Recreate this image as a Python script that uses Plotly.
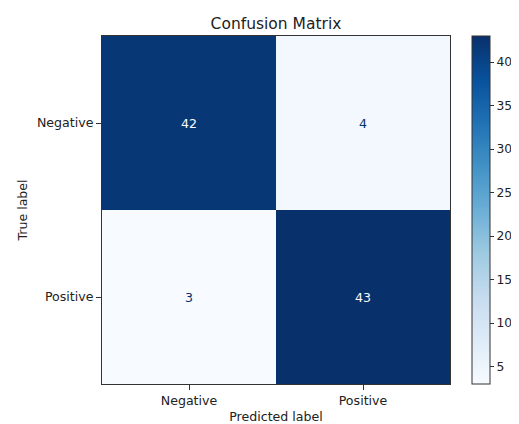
import plotly.graph_objects as go

labels = ["Negative", "Positive"]
matrix = [[42, 4], [3, 43]]
cbar_ticks = [5, 10, 15, 20, 25, 30, 35, 40]

blues = ["#f7fbff", "#deebf7", "#c6dbef", "#9ecae1", "#6baed6",
         "#4292c6", "#2171b5", "#08519c", "#08306b"]
colorscale = [[i / (len(blues) - 1), c] for i, c in enumerate(blues)]

zmin = min(min(r) for r in matrix)
zmax = max(max(r) for r in matrix)
thresh = (zmin + zmax) / 2

# page body has an 8px margin, so the figure is sized 8px smaller
W, H = 511, 416
L, T, R, B = 94, 28, 69, 40
FS = 12.6
FONT = "DejaVu Sans"
TXT = "#222"

fig = go.Figure(go.Heatmap(
    z=matrix, x=labels, y=labels,
    colorscale=colorscale, zmin=zmin, zmax=zmax,
    xgap=0, ygap=0,
    colorbar=dict(
        x=(464 - L) / (W - L - R), xanchor="left", y=0.5, yanchor="middle",
        len=1.0, lenmode="fraction", thickness=18, thicknessmode="pixels",
        outlinewidth=1, outlinecolor="#333",
        tickvals=cbar_ticks, ticks="outside", ticklen=4, tickcolor="#333",
        tickfont=dict(family=FONT, size=12.3, color=TXT),
        xpad=0, ypad=0,
    ),
    hoverinfo="skip",
))

annotations = []
for i, row in enumerate(matrix):
    for j, v in enumerate(row):
        annotations.append(dict(
            x=labels[j], y=labels[i], text=str(v), showarrow=False,
            font=dict(family=FONT, size=FS,
                      color=blues[0] if v > thresh else blues[-1]),
        ))

fig.update_layout(
    width=W, height=H,
    margin=dict(l=L, r=R, t=T, b=B, autoexpand=False),
    paper_bgcolor="white", plot_bgcolor="white",
    title=dict(text="Confusion Matrix", x=(L + W - R) / 2 / W, xanchor="center",
               y=1 - 16 / H, yanchor="middle",
               font=dict(family=FONT, size=15.5, color=TXT)),
    annotations=annotations,
    xaxis=dict(
        title=dict(text="Predicted label", standoff=7,
                   font=dict(family=FONT, size=FS, color=TXT)),
        tickfont=dict(family=FONT, size=FS, color=TXT),
        ticks="outside", ticklen=5, tickcolor="#333",
        showline=True, linecolor="#333", linewidth=1, mirror=True,
        showgrid=False, zeroline=False,
    ),
    yaxis=dict(
        title=dict(text="True label", standoff=6,
                   font=dict(family=FONT, size=FS, color=TXT)),
        tickfont=dict(family=FONT, size=FS, color=TXT),
        ticks="outside", ticklen=5, tickcolor="#333",
        showline=True, linecolor="#333", linewidth=1, mirror=True,
        showgrid=False, zeroline=False, autorange="reversed",
    ),
)

fig.write_html("out.html")
